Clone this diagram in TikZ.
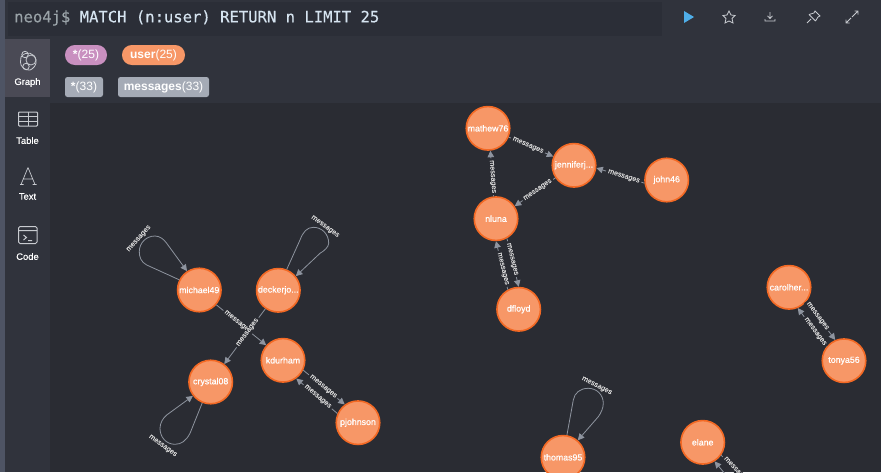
\documentclass[tikz,border=0pt]{standalone}
\usepackage{fontspec}
\setmainfont{Liberation Sans}
\newfontfamily\codefont[FakeBold=0.25]{DejaVu Sans Mono}
\newfontfamily\nodefont[FakeBold=0.6]{Liberation Sans}
\newfontfamily\smallfont[FakeBold=0.35]{Liberation Sans}
\usetikzlibrary{arrows.meta,calc}
\definecolor{canvasbg}{HTML}{2A2C33}
\definecolor{panelbg}{HTML}{30333C}
\definecolor{editorbg}{HTML}{2B2E37}
\definecolor{stripbg}{HTML}{4E5464}
\definecolor{selbg}{HTML}{4A4A55}
\definecolor{nodefill}{HTML}{F79767}
\definecolor{noderim}{HTML}{F36924}
\definecolor{edgecol}{HTML}{8E949F}
\definecolor{tagcol}{HTML}{A5ABB6}
\definecolor{labelcol}{HTML}{D8D8D8}
\definecolor{pinkpill}{HTML}{C990C0}
\definecolor{promptcol}{HTML}{9AA3A8}
\definecolor{codecol}{HTML}{D6E4F0}
\definecolor{iconcol}{HTML}{C8CBD0}
\definecolor{playcol}{HTML}{4FAEE8}
\tikzset{
 user/.style={circle,draw=noderim,line width=1.6,fill=nodefill,minimum size=43.5,inner sep=0,text=white,font=\nodefont\fontsize{8.8}{10}\selectfont},
 edgeline/.style={draw=edgecol,line width=0.8},
 arrowed/.style={edgeline,-{Triangle[length=6.5,width=6.5]}},
 elabel/.style={fill=canvasbg,inner xsep=2,inner ysep=0.4,text=labelcol,font=\smallfont\fontsize{7.2}{8}\selectfont},
 pill/.style={rounded corners=9.9,inner sep=0,text=white,font=\fontsize{12}{14}\selectfont,minimum height=20},
 tag/.style={rounded corners=2.5,fill=tagcol,inner sep=0,text=white,font=\fontsize{12}{14}\selectfont,minimum height=20},
 sidelabel/.style={text=white,inner sep=0,font=\smallfont\fontsize{9.4}{12}\selectfont},
 icon/.style={draw=iconcol,line width=0.8},
 msg/.style={pos=0.43,sloped,elabel}
}
\begin{document}
\begin{tikzpicture}[x=1pt,y=-1pt]
\useasboundingbox (0,0) rectangle (881,472);
\clip (0,0) rectangle (881,472);
\fill[canvasbg] (0,0) rectangle (881,472);
\fill[panelbg] (0,0) rectangle (881,103);
\fill[panelbg] (0,0) rectangle (50,472);
\fill[stripbg] (0,0) rectangle (5,472);
\fill[selbg] (5,39) rectangle (50,97);
\fill[editorbg] (8,2) rectangle (662,36);
% editor
\node[anchor=west,inner sep=0,font=\codefont\fontsize{15.55}{18}\selectfont,text=codecol] (query) at (14,18) {\textcolor{promptcol}{neo4j\$} MATCH (n:user) RETURN n LIMIT 25};
% toolbar
\fill[playcol] (684,11) -- (694,17) -- (684,23) -- cycle;
\draw[icon] (729,11) -- (731,15) -- (735,15.5) -- (732,18.5) -- (733,23) -- (729,21) -- (725,23) -- (726,18.5) -- (723,15.5) -- (727,15) -- cycle;
\draw[icon] (770,12) -- (770,18) (767.5,15.8) -- (770,18.5) -- (772.5,15.8) (765,19) -- (765,21) -- (775,21) -- (775,19);
\draw[icon] (807,23) -- (811,19) (809,14.5) -- (815.5,21) (809,14.5) -- (814,13) -- (815,11) -- (820,16) -- (818,17) -- (815.5,21);
\draw[icon] (852,17) -- (858,11) (854.5,11) -- (858,11) -- (858,14.5) (846,23) -- (851,18) (846,19.5) -- (846,23) -- (849.5,23);
% legend
\node[pill,fill=pinkpill,minimum width=42] (pallnodes) at (86,55) {\textbf{*}(25)};
\node[pill,fill=nodefill,minimum width=63] (puser) at (153.5,55) {\textbf{user}(25)};
\node[tag,minimum width=38] (pallrels) at (84,87) {\textbf{*}(33)};
\node[tag,minimum width=91] (pmsgs) at (163.5,87) {\textbf{messages}(33)};
% sidebar
\node[sidelabel] (lgraph) at (27.5,82.5) {Graph};
\node[sidelabel] (ltable) at (27.5,140.5) {Table};
\node[sidelabel] (ltext) at (27.5,196.5) {Text};
\node[sidelabel] (lcode) at (27.5,256.5) {Code};
% graph icon
\draw[icon] (21,57) .. controls (26,50) and (35,53) .. (36,60) .. controls (37,65) and (33,69) .. (30,70) .. controls (25,71) and (20,66) .. (20.5,62) -- cycle;
\draw[icon] (25,54.5) circle (3.2) (31,60) circle (5) (26,66.5) circle (3.2);
% table icon
\draw[icon,line width=1,rounded corners=0.8] (18.5,112) rectangle (37.5,126);
\draw[icon,line width=1] (18.5,116.5) -- (37.5,116.5) (18.5,121) -- (37.5,121) (28,112) -- (28,126);
% text icon
\draw[icon,line width=0.7] (21,184.5) -- (28,167.5) (28,167.5) -- (35,184.5) (23.4,179) -- (32.6,179) (20,184.5) -- (23.5,184.5) (32.5,184.5) -- (36.5,184.5);
% code icon
\draw[icon,line width=1,rounded corners=1.5] (18.5,226.5) rectangle (37,243.5);
\draw[icon,line width=1] (18.5,230.5) -- (37,230.5) (23.5,235) -- (26.5,237.5) -- (23.5,240) (28,240.5) -- (32,240.5);
% nodes
\node[user] (mathew) at (488,128.3) {mathew76};
\node[user] (jennifer) at (574,165.3) {jenniferj...};
\node[user] (john) at (666.7,180) {john46};
\node[user] (nluna) at (496,218.7) {nluna};
\node[user] (dfloyd) at (518.7,309.3) {dfloyd};
\node[user] (michael) at (199.3,290) {michael49};
\node[user] (decker) at (278.3,290.3) {deckerjo...};
\node[user] (kdurham) at (283,360.3) {kdurham};
\node[user] (crystal) at (210.7,382) {crystal08};
\node[user] (pjohnson) at (358,422.7) {pjohnson};
\node[user] (carol) at (789,287.3) {carolher...};
\node[user] (tonya) at (844,360.7) {tonya56};
\node[user] (thomas) at (563,457.3) {thomas95};
\node[user] (elane) at (702.7,442.3) {elane};
\coordinate (offa) at (768,505);
\coordinate (offb) at (751,505);
% edges
\draw[arrowed] (mathew.-23) -- node[msg] {messages} (jennifer.157.4);
\draw[arrowed] (john.188) -- node[msg] {messages} (jennifer.-7.5);
\draw[arrowed] (jennifer.214) -- node[msg] {messages} (nluna.34);
\draw[arrowed] (nluna.96) -- node[msg] {messages} (mathew.-84);
\draw[arrowed] (dfloyd.119) -- node[msg] {messages} (nluna.-90);
\draw[arrowed] (nluna.-61) -- node[msg] {messages} (dfloyd.90);
\draw[arrowed] (michael.-41) -- node[msg] {messages} (kdurham.138.7);
\draw[arrowed] (decker.235) -- node[msg] {messages} (crystal.53.5);
\draw[arrowed] (kdurham.-26) -- node[msg,pos=0.48] {messages} (pjohnson.126);
\draw[arrowed] (pjohnson.156) -- node[msg,pos=0.48] {messages} (kdurham.-54.7);
\draw[arrowed] (carol.-39) -- node[msg,pos=0.38] {messages} (tonya.113);
\draw[arrowed] (tonya.142) -- node[msg,pos=0.39] {messages} (carol.-67.5);
\draw[edgeline] (elane.-35) -- (offa);
\draw[arrowed] (offb) -- (elane.-58);
\node[elabel,rotate=-47] (lelane) at (736,470) {messages};
% loops
\draw[arrowed] (michael.153) -- (146.7,265) .. controls (141,262) and (139.3,257) .. (139.3,251.7) .. controls (139.3,243) and (146,236) .. (155,236) .. controls (160,236) and (164,239.5) .. (166.7,243.3) -- (michael.123.5);
\node[elabel,rotate=48] (lmichael) at (139,238.7) {messages};
\draw[arrowed] (decker.68) -- (300,240) .. controls (303,232) and (307,227.3) .. (313.3,227.3) .. controls (322,227.3) and (328.7,234) .. (328.7,243.3) .. controls (328.7,247) and (324,251) .. (320,253.3) -- (decker.39);
\node[elabel,rotate=-36] (ldecker) at (325,226.7) {messages};
\draw[arrowed] (crystal.-112) -- (190,433.3) .. controls (186,441) and (181,444.3) .. (175,444.3) .. controls (166,444.3) and (160,437) .. (160,428.3) .. controls (160,423) and (163,418) .. (166.7,415) -- (crystal.-142);
\node[elabel,rotate=-36] (lcrystal) at (162.7,446) {messages};
\draw[arrowed] (thomas.80.6) -- (573.3,400) .. controls (574.5,393) and (580,388.3) .. (588.3,388.3) .. controls (597,388.3) and (603.3,395) .. (603.3,403.3) .. controls (603.3,408) and (601,413) .. (598.3,416.7) -- (thomas.49.6);
\node[elabel,rotate=-27] (lthomas) at (596.7,386) {messages};
\end{tikzpicture}
\end{document}
